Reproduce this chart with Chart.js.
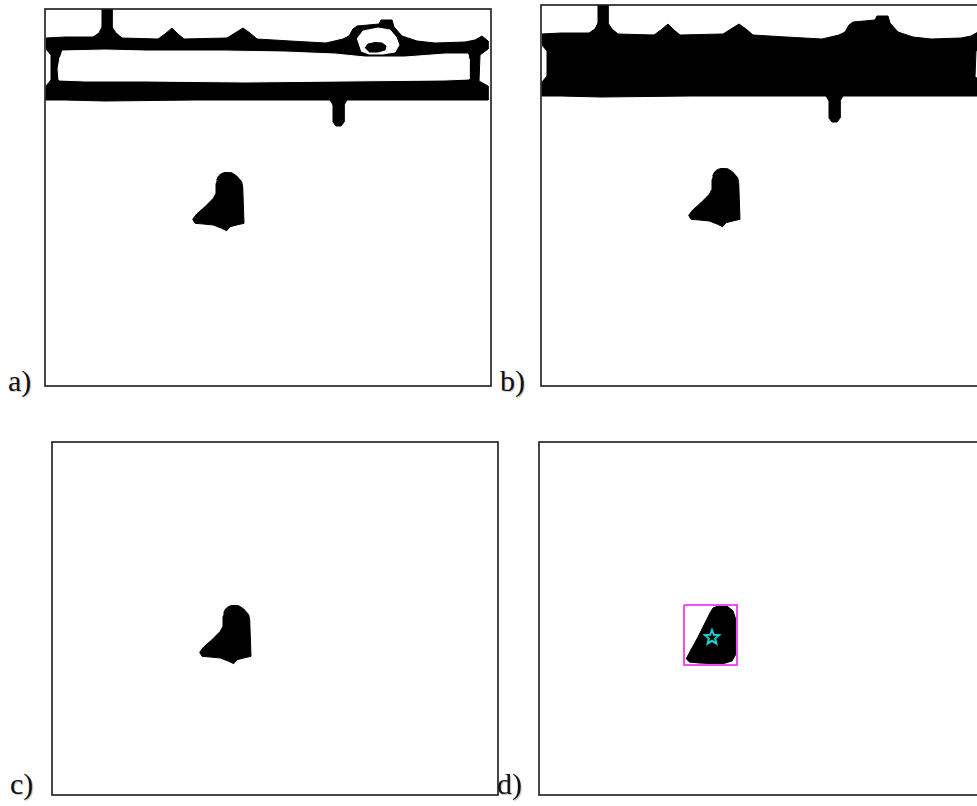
<!DOCTYPE html>
<html>
<head>
<meta charset="utf-8">
<script src="https://cdn.jsdelivr.net/npm/chart.js@4.4.0/dist/chart.umd.min.js"></script>
<style>
html,body{margin:0;padding:0;background:#fff;width:977px;height:806px;overflow:hidden;position:relative}
canvas.p{position:absolute}
.lbl{position:absolute;font-family:"Liberation Serif","Times New Roman",serif;font-size:30px;color:#111;line-height:1;white-space:nowrap;text-shadow:1px 1px 1px rgba(0,0,0,0.25)}
</style>
</head>
<body>
<script>
// ---- data (shape coordinates in image-pixel units relative to each panel frame) ----
const panelLabels = ['a)', 'b)', 'c)', 'd)'];

// outer contour of the segmented hull region (panels a and b)
const outerContour = [
  [1,29],[20,28],[48,28],[54,24],[57,18],[57,0],[67,0],[67,18],[71,24],[77,29],
  [113,30],[120,25],[127,19],[133,25],[139,30],[182,29],[190,24],[198,19],[205,24],[212,30],
  [245,32],[281,34],[298,30],[304,27],[308,20],[312,17],[334,15],[336,11],[347,11],[349,18],
  [357,27],[372,32],[390,34],[420,33],[430,31],[437,27],[443,32],[443,40],[435,46],[434,72],
  [443,77],[443,91],[360,91],[302,91],[299,96],[299,113],[296,117],[291,117],[288,113],[288,96],
  [285,91],[150,91],[60,92],[20,91],[1,91],[1,77],[6,71],[6,46],[1,40]
];
// white interior of the outline band (panel a)
const bandHole = [
  [17,42],[60,41],[100,42],[180,42],[240,43],[290,45],[320,48],[360,48],[400,45],[423,45],
  [424,50],[424,70],[400,71],[300,72],[200,73],[100,72],[40,72],[14,71],[13,60],[15,48]
];
// white interior of the superstructure hump (panel a)
const humpHole = [
  [312,30],[318,22],[333,19],[345,21],[351,28],[354,36],[350,43],[338,45],[324,45],[316,42]
];
// small black blob inside the hump (panel a)
const humpBlob = [
  [320,39],[323,35],[330,33.5],[337,34],[341,37],[340,41],[333,43],[324,43]
];
// detected object blob (panels a, b, c)
const blob = [
  [171.7,171],[173.5,167],[176.5,164.5],[180,163.5],[186.7,163.7],[191.7,167],[196.7,172.7],[197.7,177.7],
  [198.3,194.3],[199,214.3],[191.7,216],[185,217.7],[181.7,221.7],[176.7,219.3],[168.3,216],
  [158.3,215],[150,214.3],[147.7,210.3],[151.7,205],[160,197.7],[168.3,189.3],[171,184.3],[171,174.3]
];
// filled (convex) object in panel d
const blobHull = [
  [147,217],[159,195],[171,171],[174,166],[179,164],[188,164],[194,169],[197,178],[197,212],
  [193,219],[183,222],[160,221],[150,220]
];
const bboxX = [145, 198];
const bboxY = [163, 223];
const centroid = [173, 195];

// ---- helpers ----
const toPts = a => a.map(p => ({x: p[0], y: p[1]}));
function poly(arr, color, order){
  return {data: toPts(arr), showLine: true, fill: 'shape', backgroundColor: color,
          borderColor: color, borderWidth: 1, pointRadius: 0, tension: 0,
          indexAxis: 'y', order: order};
}
function rectData(xs, ys){
  return [[xs[0],ys[0]],[xs[1],ys[0]],[xs[1],ys[1]],[xs[0],ys[1]],[xs[0],ys[0]]];
}
// star marker glyph
const starImg = document.createElement('canvas');
starImg.width = 20; starImg.height = 20;
(function(){
  const g = starImg.getContext('2d');
  g.strokeStyle = '#1ccfd2'; g.lineWidth = 2; g.lineJoin = 'miter';
  g.beginPath();
  for (let i = 0; i < 10; i++) {
    const r = i % 2 ? 3.3 : 7.5;
    const a = -Math.PI/2 + i*Math.PI/5;
    g.lineTo(10 + r*Math.cos(a), 10.5 + r*Math.sin(a));
  }
  g.closePath(); g.stroke();
})();

const frame = {
  id: 'frame',
  afterDraw(c){
    const a = c.chartArea, ctx = c.ctx;
    ctx.save();
    ctx.strokeStyle = '#1a1a1a'; ctx.lineWidth = 1.6;
    ctx.strokeRect(a.left, a.top, a.right - a.left, a.bottom - a.top);
    ctx.restore();
  }
};

const panels = [
  {L:45,  T:9,   W:446, H:377, lx:8,   ly:366, sets: [poly(humpBlob,'#000',1), poly(humpHole,'#fff',2), poly(bandHole,'#fff',3), poly(outerContour,'#000',4), poly(blob,'#000',5)]},
  {L:541, T:5,   W:446, H:381, lx:500, ly:366, sets: [poly(outerContour,'#000',1), poly(blob,'#000',2)]},
  {L:52,  T:442, W:446, H:353, lx:10,  ly:769, sets: [poly(blob,'#000',1)]},
  {L:539, T:442, W:446, H:353, lx:497, ly:769, sets: [
      {data: toPts([centroid]), showLine:false, pointStyle: starImg, pointRadius: 8, order: 1},
      {data: toPts(rectData(bboxX, bboxY)), showLine:true, fill:false, borderColor:'#f04ef0', borderWidth:2, pointRadius:0, tension:0, indexAxis:'y', order: 2},
      poly(blobHull,'#000',3)
  ]}
];

panels.forEach((p, i) => {
  const cv = document.createElement('canvas');
  cv.className = 'p';
  cv.width = p.W + 6; cv.height = p.H + 6;
  cv.style.left = (p.L - 3) + 'px'; cv.style.top = (p.T - 3) + 'px';
  document.body.appendChild(cv);
  new Chart(cv, {
    type: 'scatter',
    data: {datasets: p.sets},
    options: {
      indexAxis: 'y', responsive: false, animation: false, devicePixelRatio: 1,
      events: [], layout: {padding: 3, autoPadding: false},
      plugins: {legend: {display: false}, tooltip: {enabled: false}},
      scales: {
        x: {type: 'linear', min: 0, max: p.W, display: false},
        y: {type: 'linear', min: 0, max: p.H, reverse: true, display: false}
      }
    },
    plugins: [frame]
  });
  const d = document.createElement('div');
  d.className = 'lbl';
  d.textContent = panelLabels[i];
  d.style.left = p.lx + 'px'; d.style.top = p.ly + 'px';
  document.body.appendChild(d);
});
</script>
</body>
</html>
